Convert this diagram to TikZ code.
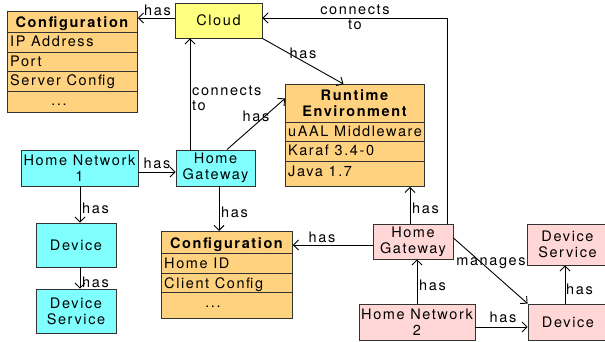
\documentclass[tikz,border=0pt]{standalone}
\usepackage{fontspec}
\setmainfont{TeX Gyre Heros}[LetterSpace=11, BoldFeatures={LetterSpace=11}]
\usetikzlibrary{arrows.meta}
\definecolor{cyn}{RGB}{128,255,255}
\definecolor{ylw}{RGB}{255,255,128}
\definecolor{org}{RGB}{255,210,128}
\definecolor{pnk}{RGB}{255,215,215}
\definecolor{edge}{RGB}{50,50,50}
\begin{document}
\begin{tikzpicture}[x=1pt,y=-1pt,
  font=\fontsize{14.5}{16}\selectfont,
  box/.style={draw=edge, line width=0.9pt, inner sep=1pt, align=center},
  cls/.style={draw=edge, line width=0.9pt, anchor=north west, inner sep=0pt},
  sep/.style={draw=edge, line width=0.9pt},
  hd/.style={anchor=base, inner sep=0pt, font=\fontsize{14.5}{16}\selectfont\bfseries, align=center},
  rt/.style={anchor=base west, inner sep=0pt},
  lbl/.style={inner sep=0pt, align=center, font=\fontsize{14.5}{15}\selectfont},
  lblw/.style={inner sep=0pt, anchor=west, align=left, font=\fontsize{14.5}{15}\selectfont},
  arr/.style={draw=black, line width=0.9pt, -{Straight Barb[length=5pt,width=10pt,line width=0.9pt]}}]
\useasboundingbox (0,0) rectangle (605,342);

% ---------- Configuration (server) ----------
\node[cls, fill=org, minimum width=130pt, minimum height=101pt] (cfgA) at (7,11) {};
\node[hd] (cfgAh) at (72,27.5) {Configuration};
\draw[sep] (7,32) -- (137,32);
\draw[sep] (7,52) -- (137,52);
\draw[sep] (7,71) -- (137,71);
\draw[sep] (7,91) -- (137,91);
\node[rt] (cfgA1) at (10,47) {IP Address};
\node[rt] (cfgA2) at (10,67) {Port};
\node[rt] (cfgA3) at (10,86) {Server Config};
\node[anchor=base, inner sep=0pt] (cfgA4) at (59,106) {...};

% ---------- Cloud ----------
\node[box, fill=ylw, minimum width=87pt, minimum height=35pt] (cloud) at (218.5,20.5) {Cloud};

% ---------- Runtime Environment ----------
\node[cls, fill=org, minimum width=139pt, minimum height=102pt] (re) at (285,84) {};
\node[hd] (reh) at (354.5,116.7) {Runtime\\Environment};
\draw[sep] (285,122) -- (424,122);
\draw[sep] (285,141) -- (424,141);
\draw[sep] (285,161) -- (424,161);
\node[rt] (re1) at (288,137) {uAAL Middleware};
\node[rt] (re2) at (288,156) {Karaf 3.4-0};
\node[rt] (re3) at (288,176) {Java 1.7};

% ---------- Configuration (client) ----------
\node[cls, fill=org, minimum width=131pt, minimum height=87pt] (cfgB) at (161,231) {};
\node[hd] (cfgBh) at (226.5,248) {Configuration};
\draw[sep] (161,253) -- (292,253);
\draw[sep] (161,273) -- (292,273);
\draw[sep] (161,292) -- (292,292);
\node[rt] (cfgB1) at (164,268) {Home ID};
\node[rt] (cfgB2) at (164,288) {Client Config};
\node[anchor=base, inner sep=0pt] (cfgB3) at (213,307) {...};

% ---------- Home network 1 (cyan) ----------
\node[box, fill=cyn, minimum width=117pt, minimum height=36pt] (hn1) at (79.5,168) {Home Network\\1};
\node[box, fill=cyn, minimum width=79pt, minimum height=36pt] (hg1) at (215.5,168) {Home\\Gateway};
\node[box, fill=cyn, minimum width=80pt, minimum height=44pt] (dev1) at (76,245) {Device};
\node[box, fill=cyn, minimum width=80pt, minimum height=44pt] (ds1) at (76,311) {Device\\Service};

% ---------- Home network 2 (pink) ----------
\node[box, fill=pnk, minimum width=80pt, minimum height=35pt] (hg2) at (413,241.5) {Home\\Gateway};
\node[box, fill=pnk, minimum width=116pt, minimum height=36pt] (hn2) at (417,322) {Home Network\\2};
\node[box, fill=pnk, minimum width=80pt, minimum height=36pt] (dev2) at (568,322) {Device};
\node[box, fill=pnk, minimum width=81pt, minimum height=41pt] (ds2) at (567.5,244.5) {Device\\Service};

% ---------- connectors ----------
\draw[arr] ([yshift=2.5pt]cloud.west) -- ([yshift=2.5pt]cloud.west -| cfgA.east);
\node[lbl] (l1) at (157.5,10) {has};

\draw[arr] ([xshift=34pt]hg2.north) |- ([yshift=2.5pt]cloud.east);
\node[lbl] (l2) at (355,17.5) {connects\\to};

\draw[arr] (cloud.south east) -- ([xshift=-11.5pt]re.north);
\node[lbl] (l3) at (303,53) {has};

\draw[arr] ([xshift=-25.5pt]hg1.north) coordinate (p4) -- (p4 |- cloud.south);
\node[lblw] (l4) at (192,98.5) {connects\\to};

\draw[arr] ([xshift=11.5pt]hg1.north) -- ([yshift=37pt]re.west);
\node[lbl] (l5) at (256,116) {has};

\draw[arr] ([yshift=-4pt]hn1.east) -- ([yshift=-4pt]hg1.west);
\node[lbl] (l6) at (157,163) {has};

\draw[arr] ([xshift=0.5pt]hn1.south) coordinate (p7) -- (p7 |- dev1.north);
\node[lblw] (l7) at (82,208) {has};

\draw[arr] ([xshift=4pt]dev1.south) coordinate (p8) -- (p8 |- ds1.north);
\node[lblw] (l8) at (82,282) {has};

\draw[arr] ([xshift=3.5pt]hg1.south) coordinate (p9) -- (p9 |- cfgB.north);
\node[lblw] (l9) at (221,212) {has};

\draw[arr] ([yshift=-3.5pt]hg2.west) coordinate (p10) -- (p10 -| cfgB.east);
\node[lbl] (l10) at (322,237) {has};

\draw[arr] ([xshift=-3pt]hg2.north) coordinate (p11) -- (p11 |- re.south);
\node[lblw] (l11) at (412,208) {has};

\draw[arr] (hn2.north) -- (hn2.north |- hg2.south);
\node[lblw] (l12) at (419,285) {has};

\draw[arr] ([yshift=-5pt]hn2.east) coordinate (p13) -- (p13 -| dev2.west);
\node[lbl] (l13) at (503,317) {has};

\draw[arr] ([xshift=-3pt]dev2.north) coordinate (p14) -- (p14 |- ds2.south);
\node[lblw] (l14) at (566,289) {has};

\draw[arr] ([yshift=3.5pt]hg2.east) -- (dev2.north west);
\node[lbl] (l15) at (491,263) {manages};
\end{tikzpicture}
\end{document}
